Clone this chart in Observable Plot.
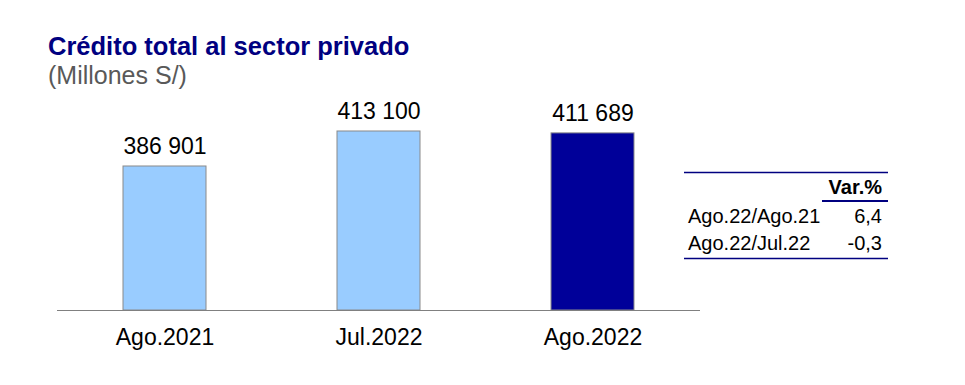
<!DOCTYPE html>
<html>
<head>
<meta charset="utf-8">
<script src="https://cdn.jsdelivr.net/npm/d3@7"></script>
<script src="https://cdn.jsdelivr.net/npm/@observablehq/plot@0.6"></script>
<style>
  html, body { margin: 0; padding: 0; background: #fff; }
  #wrap { position: relative; width: 965px; height: 385px; overflow: hidden; font-family: "Liberation Sans", Arial, sans-serif; }
  #overlay { position: absolute; left: 0; top: 0; pointer-events: none; }
</style>
</head>
<body>
<div id="wrap"></div>
<script>
// ---- Data ----
const categories = ["Ago.2021", "Jul.2022", "Ago.2022"];
const values = [386901, 413100, 411689];
const barColors = ["#99CCFF", "#99CCFF", "#000099"];
const titleText = "Crédito total al sector privado";
const subtitleText = "(Millones S/)";
const varHeader = "Var.%";
const varLabels = ["Ago.22/Ago.21", "Ago.22/Jul.22"];
const varValues = [6.4, -0.3];
const yDomain = [279100, 436300];

const locale = d3.formatLocale({decimal: ",", thousands: " ", grouping: [3], currency: ["", ""], minus: "-"});
const fmtInt = locale.format(",d");
const fmtPct = locale.format(".1f");

const data = categories.map((c, i) => ({cat: c, value: values[i], color: barColors[i]}));

const W = 965, H = 385;
const plot = Plot.plot({
  width: W,
  height: H,
  marginLeft: 57,
  marginRight: W - 700,
  marginTop: 100,
  marginBottom: 75,
  style: {fontFamily: "'Liberation Sans', Arial, sans-serif", fontSize: "23px", color: "#000", background: "#fff"},
  x: {domain: categories, paddingInner: 0.614, paddingOuter: 0.307, label: null, tickSize: 0, tickPadding: 18},
  y: {domain: yDomain, axis: null},
  marks: [
    Plot.barY(data, {x: "cat", y1: yDomain[0], y2: "value", fill: "color", stroke: "#8a8a8a", strokeWidth: 1}),
    Plot.ruleY([yDomain[0]], {stroke: "#808080", strokeWidth: 1}),
    Plot.text(data, {x: "cat", y: "value", text: d => fmtInt(d.value), lineAnchor: "bottom", dy: -12, fill: "#000", fontSize: 23})
  ]
});
document.getElementById("wrap").appendChild(plot);

// ---- Overlay: title, subtitle, variation table ----
const svg = d3.select("#wrap").append("svg")
  .attr("id", "overlay").attr("width", W).attr("height", H)
  .style("font-family", "'Liberation Sans', Arial, sans-serif");

svg.append("text").attr("x", 48).attr("y", 55)
  .attr("font-size", 25.5).attr("font-weight", "bold").attr("fill", "#000080")
  .text(titleText);
svg.append("text").attr("x", 48).attr("y", 84)
  .attr("font-size", 25).attr("fill", "#595959")
  .text(subtitleText);

const tx0 = 684, tx1 = 888;
svg.append("line").attr("x1", tx0).attr("x2", tx1).attr("y1", 172.5).attr("y2", 172.5)
  .attr("stroke", "#000080").attr("stroke-width", 1.5);
svg.append("text").attr("x", 882).attr("y", 194).attr("text-anchor", "end")
  .attr("font-size", 20).attr("font-weight", "bold").attr("fill", "#000")
  .text(varHeader);
svg.append("line").attr("x1", 822).attr("x2", tx1).attr("y1", 201).attr("y2", 201)
  .attr("stroke", "#000080").attr("stroke-width", 2);
const rowY = [223, 249.5];
varLabels.forEach((lab, i) => {
  svg.append("text").attr("x", 688).attr("y", rowY[i]).attr("font-size", 20).attr("fill", "#000").text(lab);
  svg.append("text").attr("x", 882).attr("y", rowY[i]).attr("text-anchor", "end").attr("font-size", 20).attr("fill", "#000").text(fmtPct(varValues[i]));
});
svg.append("line").attr("x1", tx0).attr("x2", tx1).attr("y1", 258.5).attr("y2", 258.5)
  .attr("stroke", "#000080").attr("stroke-width", 1.5);
</script>
</body>
</html>
